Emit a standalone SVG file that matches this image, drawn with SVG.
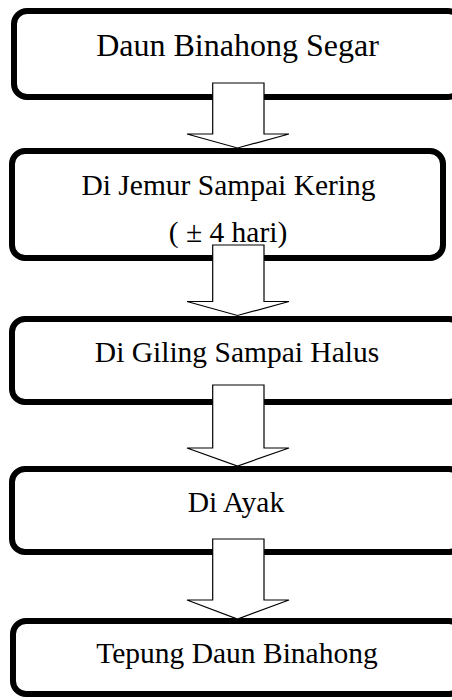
<svg xmlns="http://www.w3.org/2000/svg" width="452" height="700" viewBox="0 0 452 700">
<style>
.box{fill:#fff;stroke:#000;stroke-width:6}
.arr{fill:#fff;stroke:#000;stroke-width:1.2;stroke-linejoin:miter}
.t{font-family:"Liberation Serif","Times New Roman",serif;font-size:29.5px;fill:#000;text-anchor:middle}
.big{font-size:32px}
</style>
<rect width="452" height="700" fill="#fff"/>
<g id="n1"><rect class="box" x="14" y="11" width="447" height="86" rx="13"/><text class="t big" x="237.5" y="56">Daun Binahong Segar</text></g>
<g id="n2"><rect class="box" x="12" y="151" width="431" height="107" rx="13"/><text class="t" x="228.5" y="195">Di Jemur Sampai Kering</text><text class="t" x="228" y="242">( ± 4 hari)</text></g>
<g id="n3"><rect class="box" x="12" y="319" width="450" height="83" rx="13"/><text class="t" x="237" y="362">Di Giling Sampai Halus</text></g>
<g id="n4"><rect class="box" x="12" y="469" width="450" height="83" rx="13"/><text class="t" x="236" y="512">Di Ayak</text></g>
<g id="n5"><rect class="box" x="13" y="621" width="449" height="73" rx="13"/><text class="t" x="237" y="663">Tepung Daun Binahong</text></g>
<g id="connectors">
<polygon class="arr" points="212.7,83 264,83 264,134 289,134 237.5,148 187,134 212.7,134"/>
<polygon class="arr" points="212.7,245 264,245 264,301.5 289,301.5 237.5,315.5 187,301.5 212.7,301.5"/>
<polygon class="arr" points="212.7,385 264,385 264,448 289,448 237.5,466 187,448 212.7,448"/>
<polygon class="arr" points="212.7,539 264,539 264,600 289,600 237.5,619 187,600 212.7,600"/>
</g>
</svg>
